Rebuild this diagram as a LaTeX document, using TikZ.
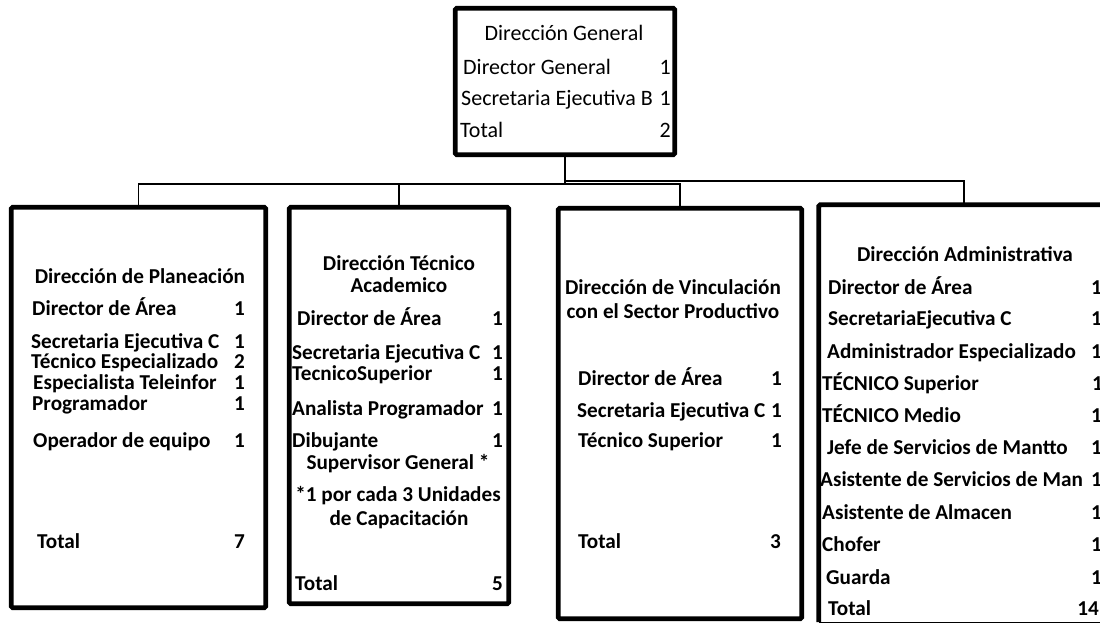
\documentclass[tikz,border=0pt]{standalone}
\usepackage{fontspec}
\setmainfont{Carlito}
\newcommand{\regf}{\fontsize{22}{26}\selectfont}
\newcommand{\boldf}{\fontsize{21.2}{25}\selectfont\bfseries}
\begin{document}
\begin{tikzpicture}[x=1pt,y=-1pt,
  box/.style={draw, line width=4.8pt, rounded corners=1.5pt, inner sep=0pt},
  lbl/.style={anchor=base west, inner sep=0pt, font=\boldf},
  num/.style={anchor=base east, inner sep=0pt, font=\boldf},
  ttl/.style={anchor=base, inner sep=0pt, font=\boldf},
  rlbl/.style={anchor=base west, inner sep=0pt, font=\regf},
  rnum/.style={anchor=base east, inner sep=0pt, font=\regf},
  rttl/.style={anchor=base, inner sep=0pt, font=\regf},
  conn/.style={line width=1.4pt}]
\useasboundingbox (0,0) rectangle (1100,625);
\fill[white] (0,0) rectangle (1100,625);

% ---------- top box ----------
\node[box, minimum width=219.5pt, minimum height=146.5pt] (g) at (565,81.5) {};
\node[rttl] (g0) at (564,40) {Dirección General};
\node[rlbl] (g1) at (463,74) {Director General};
\node[rnum] (g1n) at (671,74) {1};
\node[rlbl] (g2) at (461,105) {Secretaria Ejecutiva B};
\node[rnum] (g2n) at (671,105) {1};
\node[rlbl] (g3) at (460,137) {Total};
\node[rnum] (g3n) at (671,137) {2};

% ---------- Planeacion ----------
\node[box, minimum width=254.5pt, minimum height=400.5pt] (p) at (138.5,407.5) {};
\node[ttl] (p0) at (140,283) {Dirección de Planeación};
\node[lbl] (p1) at (32,315) {Director de Área};        \node[num] (p1n) at (245,315) {1};
\node[lbl] (p2) at (31,348) {Secretaria Ejecutiva C};  \node[num] (p2n) at (245,348) {1};
\node[lbl] (p3) at (31,368) {Técnico Especializado};   \node[num] (p3n) at (245,368) {2};
\node[lbl] (p4) at (33,389) {Especialista Teleinfor};  \node[num] (p4n) at (245,389) {1};
\node[lbl] (p5) at (32,410) {Programador};             \node[num] (p5n) at (245,410) {1};
\node[lbl] (p6) at (33,447) {Operador de equipo};      \node[num] (p6n) at (245,447) {1};
\node[lbl] (p7) at (37,548) {Total};                   \node[num] (p7n) at (245,548) {7};

% ---------- Tecnico Academico ----------
\node[box, minimum width=219.5pt, minimum height=396.5pt] (t) at (399,405.5) {};
\node[ttl] (t0a) at (399,270) {Dirección Técnico};
\node[ttl] (t0b) at (399,292) {Academico};
\node[lbl] (t1) at (297,325) {Director de Área};        \node[num] (t1n) at (503,325) {1};
\node[lbl] (t2) at (292,359) {Secretaria Ejecutiva C};  \node[num] (t2n) at (503,359) {1};
\node[lbl] (t3) at (292,380) {TecnicoSuperior};         \node[num] (t3n) at (503,380) {1};
\node[lbl] (t4) at (292,415) {Analista Programador};    \node[num] (t4n) at (503,415) {1};
\node[lbl] (t5) at (292,447) {Dibujante};               \node[num] (t5n) at (503,447) {1};
\node[ttl] (t6) at (398,469) {Supervisor General *};
\node[ttl] (t7) at (398,501) {*1 por cada 3 Unidades};
\node[ttl] (t8) at (399,525) {de Capacitación};
\node[lbl] (t9) at (295,590) {Total};                   \node[num] (t9n) at (503,590) {5};

% ---------- Vinculacion ----------
\node[box, minimum width=243.5pt, minimum height=410.5pt] (v) at (680,413.5) {};
\node[ttl] (v0a) at (673,294) {Dirección de Vinculación};
\node[ttl] (v0b) at (673,318) {con el Sector Productivo};
\node[lbl] (v1) at (578,385) {Director de Área};        \node[num] (v1n) at (782,385) {1};
\node[lbl] (v2) at (577,417) {Secretaria Ejecutiva C};  \node[num] (v2n) at (782,417) {1};
\node[lbl] (v3) at (578,447) {Técnico Superior};        \node[num] (v3n) at (782,447) {1};
\node[lbl] (v4) at (578,548) {Total};                   \node[num] (v4n) at (781,548) {3};

% ---------- Administrativa ----------
\node[minimum width=290pt, minimum height=417pt, inner sep=0pt] (a) at (964,413.5) {};
\draw[line width=4.8pt, rounded corners=1.5pt] (a.south west) -- (a.north west) -- (a.north east);
\draw[line width=1pt] (a.south west) -- (a.south east);
\node[ttl] (a0) at (965,261) {Dirección Administrativa};
\node[lbl] (a1) at (828,294) {Director de Área};              \node[num] (a1n) at (1102,294) {1};
\node[lbl] (a2) at (828,325) {SecretariaEjecutiva C};         \node[num] (a2n) at (1102,325) {1};
\node[lbl] (a3) at (827,358) {Administrador Especializado};   \node[num] (a3n) at (1102,358) {1};
\node[lbl] (a4) at (822,390) {TÉCNICO Superior};              \node[num] (a4n) at (1103,390) {1};
\node[lbl] (a5) at (822,422) {TÉCNICO Medio};                 \node[num] (a5n) at (1102,422) {1};
\node[lbl] (a6) at (827,454) {Jefe de Servicios de Mantto};   \node[num] (a6n) at (1102,454) {1};
\node[lbl] (a7) at (820,486) {Asistente de Servicios de Man}; \node[num] (a7n) at (1102,486) {1};
\node[lbl] (a8) at (822,519) {Asistente de Almacen};          \node[num] (a8n) at (1102,519) {1};
\node[lbl] (a9) at (822,551) {Chofer};                        \node[num] (a9n) at (1102,551) {1};
\node[lbl] (a10) at (826,584) {Guarda};                       \node[num] (a10n) at (1102,584) {1};
\node[lbl] (a11) at (828,615) {Total};                        \node[num] (a11n) at (1099,615) {14};

% ---------- connectors ----------
\coordinate (j) at (565,184);
\coordinate (j2) at (565,181);
\draw[conn] (g.south) -- (j);
\draw[conn] (j) -| (p.north);
\draw[conn] (j) -| (t.north);
\draw[conn] (j) -| (v.north);
\draw[conn] (j2) -| (a.north);
\end{tikzpicture}
\end{document}
